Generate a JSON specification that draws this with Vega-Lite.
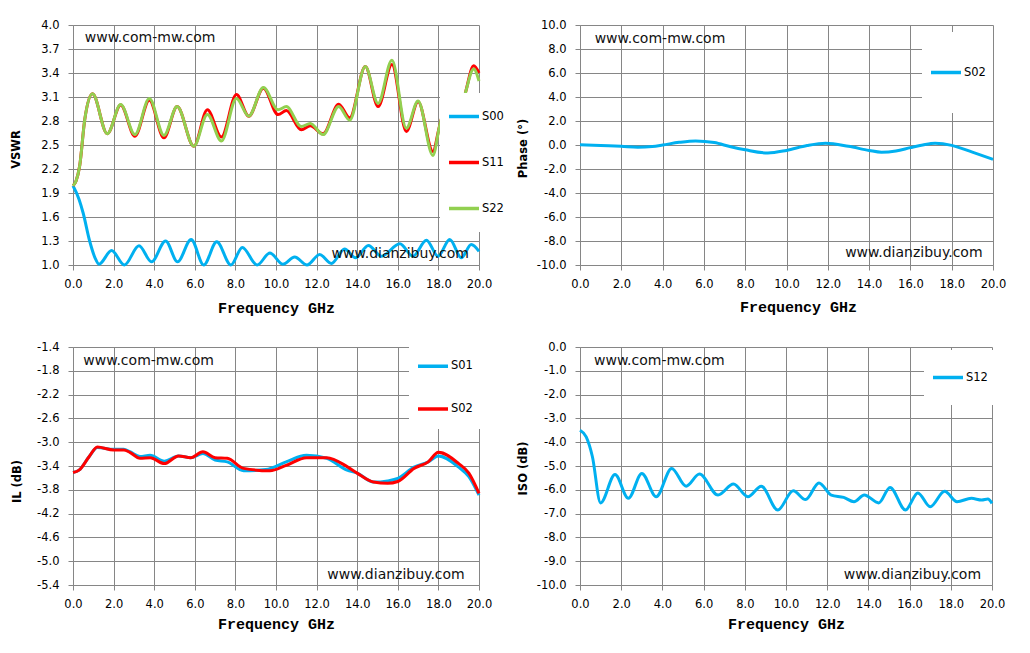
{
  "$schema": "https://vega.github.io/schema/vega-lite/v6.json",
  "autosize": {"type": "none"},
  "padding": {"left": 73, "top": 25, "right": 957, "bottom": 628},
  "background": "white",
  "config": {
    "view": {"stroke": null},
    "axis": {
      "grid": true,
      "gridColor": "#868686",
      "gridWidth": 1,
      "gridOpacity": 1,
      "domainColor": "#868686",
      "tickColor": "#868686",
      "tickSize": 5,
      "tickCount": 30,
      "labelFont": "DejaVu Sans",
      "labelFontSize": 11.5,
      "labelColor": "#000000",
      "labelPadding": 8,
      "labelFlush": false,
      "labelOverlap": false,
      "labelExpr": "replace(datum.label, '\u2212', '-')",
      "titleColor": "#000000"
    },
    "axisX": {
      "titleFont": "Liberation Mono",
      "titleFontSize": 15,
      "titleFontWeight": "bold",
      "titleBaseline": "middle"
    },
    "axisY": {
      "titleFont": "DejaVu Sans",
      "titleFontSize": 11.5,
      "titleFontWeight": "bold",
      "titleBaseline": "middle",
      "labelPadding": 9
    },
    "legend": {
      "orient": "none",
      "title": null,
      "symbolType": "stroke",
      "symbolSize": 900,
      "symbolStrokeWidth": 3.5,
      "padding": 7,
      "fillColor": "white",
      "labelOffset": 1,
      "labelFont": "DejaVu Sans",
      "labelFontSize": 11.5,
      "labelColor": "#000000"
    },
    "text": {"font": "DejaVu Sans", "fontSize": 14, "color": "#111111", "align": "left", "baseline": "middle"}
  },
  "datasets": {
    "vswr": [
      {"f": 0, "series": "S00", "v": 1.99}, {"f": 0.3, "series": "S00", "v": 1.82}, {"f": 0.5, "series": "S00", "v": 1.65},
      {"f": 0.82, "series": "S00", "v": 1.3}, {"f": 1.1, "series": "S00", "v": 1.08}, {"f": 1.28, "series": "S00", "v": 1.01},
      {"f": 1.9, "series": "S00", "v": 1.18}, {"f": 2.53, "series": "S00", "v": 1.0}, {"f": 3.25, "series": "S00", "v": 1.24},
      {"f": 3.87, "series": "S00", "v": 1.04}, {"f": 4.56, "series": "S00", "v": 1.3}, {"f": 5.15, "series": "S00", "v": 1.04},
      {"f": 5.82, "series": "S00", "v": 1.32}, {"f": 6.44, "series": "S00", "v": 1.0}, {"f": 7.08, "series": "S00", "v": 1.29},
      {"f": 7.78, "series": "S00", "v": 1.0}, {"f": 8.34, "series": "S00", "v": 1.22}, {"f": 9.07, "series": "S00", "v": 1.0},
      {"f": 9.7, "series": "S00", "v": 1.15}, {"f": 10.34, "series": "S00", "v": 1.01}, {"f": 10.92, "series": "S00", "v": 1.1},
      {"f": 11.53, "series": "S00", "v": 1.0}, {"f": 12.15, "series": "S00", "v": 1.13}, {"f": 12.73, "series": "S00", "v": 1.02},
      {"f": 13.38, "series": "S00", "v": 1.2}, {"f": 13.92, "series": "S00", "v": 1.09}, {"f": 14.55, "series": "S00", "v": 1.245},
      {"f": 15.19, "series": "S00", "v": 1.11}, {"f": 16.1, "series": "S00", "v": 1.265}, {"f": 16.75, "series": "S00", "v": 1.11},
      {"f": 17.41, "series": "S00", "v": 1.31}, {"f": 17.98, "series": "S00", "v": 1.11}, {"f": 18.56, "series": "S00", "v": 1.32},
      {"f": 19.13, "series": "S00", "v": 1.09}, {"f": 19.62, "series": "S00", "v": 1.255}, {"f": 20, "series": "S00", "v": 1.17},

      {"f": 0, "series": "S11", "v": 1.99}, {"f": 0.15, "series": "S11", "v": 2.05}, {"f": 0.33, "series": "S11", "v": 2.24},
      {"f": 0.58, "series": "S11", "v": 2.82}, {"f": 0.96, "series": "S11", "v": 3.14}, {"f": 1.69, "series": "S11", "v": 2.64},
      {"f": 2.35, "series": "S11", "v": 3.0}, {"f": 3.05, "series": "S11", "v": 2.61}, {"f": 3.76, "series": "S11", "v": 3.06},
      {"f": 4.48, "series": "S11", "v": 2.59}, {"f": 5.13, "series": "S11", "v": 2.98}, {"f": 5.95, "series": "S11", "v": 2.485},
      {"f": 6.62, "series": "S11", "v": 2.94}, {"f": 7.31, "series": "S11", "v": 2.6}, {"f": 8.05, "series": "S11", "v": 3.13},
      {"f": 8.66, "series": "S11", "v": 2.86}, {"f": 9.38, "series": "S11", "v": 3.21}, {"f": 10.1, "series": "S11", "v": 2.88},
      {"f": 10.51, "series": "S11", "v": 2.93}, {"f": 11.25, "series": "S11", "v": 2.69}, {"f": 11.69, "series": "S11", "v": 2.74},
      {"f": 12.32, "series": "S11", "v": 2.64}, {"f": 13.09, "series": "S11", "v": 3.01}, {"f": 13.63, "series": "S11", "v": 2.84},
      {"f": 14.4, "series": "S11", "v": 3.48}, {"f": 15.03, "series": "S11", "v": 2.98}, {"f": 15.71, "series": "S11", "v": 3.505},
      {"f": 16.42, "series": "S11", "v": 2.67}, {"f": 17.0, "series": "S11", "v": 3.04}, {"f": 17.73, "series": "S11", "v": 2.42},
      {"f": 18.06, "series": "S11", "v": 2.74}, {"f": 18.4, "series": "S11", "v": 3.0}, {"f": 19.0, "series": "S11", "v": 2.8},
      {"f": 19.35, "series": "S11", "v": 3.17}, {"f": 19.74, "series": "S11", "v": 3.49}, {"f": 20, "series": "S11", "v": 3.4},

      {"f": 0, "series": "S22", "v": 1.99}, {"f": 0.15, "series": "S22", "v": 2.05}, {"f": 0.33, "series": "S22", "v": 2.24},
      {"f": 0.58, "series": "S22", "v": 2.82}, {"f": 0.96, "series": "S22", "v": 3.14}, {"f": 1.69, "series": "S22", "v": 2.64},
      {"f": 2.35, "series": "S22", "v": 3.005}, {"f": 3.05, "series": "S22", "v": 2.63}, {"f": 3.76, "series": "S22", "v": 3.08},
      {"f": 4.48, "series": "S22", "v": 2.62}, {"f": 5.13, "series": "S22", "v": 2.98}, {"f": 5.95, "series": "S22", "v": 2.485},
      {"f": 6.62, "series": "S22", "v": 2.88}, {"f": 7.31, "series": "S22", "v": 2.55}, {"f": 8.05, "series": "S22", "v": 3.08},
      {"f": 8.66, "series": "S22", "v": 2.86}, {"f": 9.38, "series": "S22", "v": 3.22}, {"f": 10.1, "series": "S22", "v": 2.94},
      {"f": 10.51, "series": "S22", "v": 2.98}, {"f": 11.25, "series": "S22", "v": 2.73}, {"f": 11.69, "series": "S22", "v": 2.77},
      {"f": 12.32, "series": "S22", "v": 2.63}, {"f": 13.09, "series": "S22", "v": 2.98}, {"f": 13.63, "series": "S22", "v": 2.81},
      {"f": 14.4, "series": "S22", "v": 3.48}, {"f": 15.03, "series": "S22", "v": 3.02}, {"f": 15.71, "series": "S22", "v": 3.56},
      {"f": 16.42, "series": "S22", "v": 2.71}, {"f": 17.0, "series": "S22", "v": 3.05}, {"f": 17.73, "series": "S22", "v": 2.37},
      {"f": 18.06, "series": "S22", "v": 2.74}, {"f": 18.4, "series": "S22", "v": 3.0}, {"f": 19.0, "series": "S22", "v": 2.8},
      {"f": 19.35, "series": "S22", "v": 3.17}, {"f": 19.74, "series": "S22", "v": 3.45}, {"f": 20, "series": "S22", "v": 3.3}
    ],
    "phase": [
      {"f": 0, "series": "S02", "v": 0.02}, {"f": 1, "series": "S02", "v": -0.05}, {"f": 2, "series": "S02", "v": -0.11},
      {"f": 2.8, "series": "S02", "v": -0.18}, {"f": 3.5, "series": "S02", "v": -0.12}, {"f": 4, "series": "S02", "v": 0.0},
      {"f": 4.8, "series": "S02", "v": 0.22}, {"f": 5.6, "series": "S02", "v": 0.34}, {"f": 6.5, "series": "S02", "v": 0.2},
      {"f": 7.3, "series": "S02", "v": -0.15}, {"f": 8, "series": "S02", "v": -0.4}, {"f": 9.1, "series": "S02", "v": -0.67},
      {"f": 10, "series": "S02", "v": -0.45}, {"f": 11, "series": "S02", "v": -0.05}, {"f": 11.9, "series": "S02", "v": 0.14},
      {"f": 13, "series": "S02", "v": -0.11}, {"f": 14, "series": "S02", "v": -0.45}, {"f": 14.6, "series": "S02", "v": -0.6},
      {"f": 15.3, "series": "S02", "v": -0.5}, {"f": 16, "series": "S02", "v": -0.22}, {"f": 16.6, "series": "S02", "v": 0.0},
      {"f": 17.2, "series": "S02", "v": 0.14}, {"f": 18, "series": "S02", "v": -0.03}, {"f": 19, "series": "S02", "v": -0.6},
      {"f": 20, "series": "S02", "v": -1.2}
    ],
    "il": [
      {"f": 0, "series": "S01", "v": -3.51}, {"f": 0.3, "series": "S01", "v": -3.47}, {"f": 0.8, "series": "S01", "v": -3.24},
      {"f": 1.2, "series": "S01", "v": -3.09}, {"f": 2.0, "series": "S01", "v": -3.12}, {"f": 2.5, "series": "S01", "v": -3.12},
      {"f": 2.8, "series": "S01", "v": -3.16}, {"f": 3.3, "series": "S01", "v": -3.24}, {"f": 3.8, "series": "S01", "v": -3.22},
      {"f": 4.5, "series": "S01", "v": -3.32}, {"f": 5.2, "series": "S01", "v": -3.23}, {"f": 5.8, "series": "S01", "v": -3.26},
      {"f": 6.4, "series": "S01", "v": -3.19}, {"f": 7.0, "series": "S01", "v": -3.3}, {"f": 7.6, "series": "S01", "v": -3.33},
      {"f": 8.4, "series": "S01", "v": -3.48}, {"f": 9.5, "series": "S01", "v": -3.46}, {"f": 10.5, "series": "S01", "v": -3.33},
      {"f": 11.5, "series": "S01", "v": -3.22}, {"f": 12.5, "series": "S01", "v": -3.27}, {"f": 13.5, "series": "S01", "v": -3.47},
      {"f": 14.0, "series": "S01", "v": -3.52}, {"f": 14.8, "series": "S01", "v": -3.67}, {"f": 15.5, "series": "S01", "v": -3.65},
      {"f": 16.0, "series": "S01", "v": -3.61}, {"f": 16.8, "series": "S01", "v": -3.42}, {"f": 17.5, "series": "S01", "v": -3.33},
      {"f": 18.0, "series": "S01", "v": -3.23}, {"f": 19.0, "series": "S01", "v": -3.42}, {"f": 19.5, "series": "S01", "v": -3.58},
      {"f": 20, "series": "S01", "v": -3.89},

      {"f": 0, "series": "S02", "v": -3.51}, {"f": 0.3, "series": "S02", "v": -3.47}, {"f": 0.8, "series": "S02", "v": -3.24},
      {"f": 1.2, "series": "S02", "v": -3.08}, {"f": 2.0, "series": "S02", "v": -3.13}, {"f": 2.5, "series": "S02", "v": -3.13},
      {"f": 2.8, "series": "S02", "v": -3.17}, {"f": 3.3, "series": "S02", "v": -3.27}, {"f": 3.8, "series": "S02", "v": -3.26},
      {"f": 4.5, "series": "S02", "v": -3.36}, {"f": 5.2, "series": "S02", "v": -3.23}, {"f": 5.8, "series": "S02", "v": -3.26},
      {"f": 6.4, "series": "S02", "v": -3.16}, {"f": 7.0, "series": "S02", "v": -3.26}, {"f": 7.6, "series": "S02", "v": -3.27},
      {"f": 8.4, "series": "S02", "v": -3.44}, {"f": 9.7, "series": "S02", "v": -3.48}, {"f": 10.5, "series": "S02", "v": -3.39},
      {"f": 11.5, "series": "S02", "v": -3.26}, {"f": 12.5, "series": "S02", "v": -3.26}, {"f": 13.5, "series": "S02", "v": -3.41},
      {"f": 14.0, "series": "S02", "v": -3.52}, {"f": 14.8, "series": "S02", "v": -3.67}, {"f": 15.5, "series": "S02", "v": -3.69},
      {"f": 16.0, "series": "S02", "v": -3.66}, {"f": 16.8, "series": "S02", "v": -3.44}, {"f": 17.5, "series": "S02", "v": -3.33},
      {"f": 18.0, "series": "S02", "v": -3.17}, {"f": 19.0, "series": "S02", "v": -3.36}, {"f": 19.5, "series": "S02", "v": -3.52},
      {"f": 20, "series": "S02", "v": -3.86}
    ],
    "iso": [
      {"f": 0, "series": "S12", "v": -3.5}, {"f": 0.3, "series": "S12", "v": -3.78}, {"f": 0.6, "series": "S12", "v": -4.6},
      {"f": 1.0, "series": "S12", "v": -6.55}, {"f": 1.7, "series": "S12", "v": -5.36}, {"f": 2.35, "series": "S12", "v": -6.36},
      {"f": 3.0, "series": "S12", "v": -5.31}, {"f": 3.7, "series": "S12", "v": -6.29}, {"f": 4.45, "series": "S12", "v": -5.1},
      {"f": 5.15, "series": "S12", "v": -5.85}, {"f": 5.8, "series": "S12", "v": -5.34}, {"f": 6.7, "series": "S12", "v": -6.22},
      {"f": 7.45, "series": "S12", "v": -5.76}, {"f": 8.15, "series": "S12", "v": -6.29}, {"f": 8.8, "series": "S12", "v": -5.85},
      {"f": 9.6, "series": "S12", "v": -6.85}, {"f": 10.35, "series": "S12", "v": -6.04}, {"f": 10.95, "series": "S12", "v": -6.41},
      {"f": 11.6, "series": "S12", "v": -5.71}, {"f": 12.2, "series": "S12", "v": -6.22}, {"f": 12.8, "series": "S12", "v": -6.32},
      {"f": 13.3, "series": "S12", "v": -6.5}, {"f": 13.8, "series": "S12", "v": -6.22}, {"f": 14.5, "series": "S12", "v": -6.55},
      {"f": 15.05, "series": "S12", "v": -5.9}, {"f": 15.8, "series": "S12", "v": -6.85}, {"f": 16.4, "series": "S12", "v": -6.13},
      {"f": 17.0, "series": "S12", "v": -6.71}, {"f": 17.7, "series": "S12", "v": -6.06}, {"f": 18.3, "series": "S12", "v": -6.5},
      {"f": 19.0, "series": "S12", "v": -6.36}, {"f": 19.5, "series": "S12", "v": -6.43}, {"f": 19.8, "series": "S12", "v": -6.39},
      {"f": 20, "series": "S12", "v": -6.57}
    ]
  },
  "columns": 2,
  "spacing": {"row": 82, "column": 101},
  "bounds": "flush",
  "resolve": {"scale": {"color": "independent"}, "legend": {"color": "independent"}},
  "concat": [
    {
      "width": 406,
      "height": 240,
      "layer": [
        {
          "data": {"name": "vswr"},
          "mark": {"type": "line", "strokeWidth": 3, "interpolate": "monotone"},
          "encoding": {
            "x": {"field": "f", "type": "quantitative", "scale": {"domain": [0, 20], "nice": false},
              "axis": {"values": [0, 2, 4, 6, 8, 10, 12, 14, 16, 18, 20], "format": ".1f", "title": "Frequency GHz", "titleY": 42}},
            "y": {"field": "v", "type": "quantitative", "scale": {"domain": [1, 4], "nice": false, "zero": false},
              "axis": {"values": [1, 1.3, 1.6, 1.9, 2.2, 2.5, 2.8, 3.1, 3.4, 3.7, 4], "format": ".1f", "title": "VSWR", "titleX": -57, "titleY": 124}},
            "color": {"field": "series", "type": "nominal",
              "scale": {"domain": ["S00", "S11", "S22"], "range": ["#00B0F0", "#FF0000", "#92D050"]},
              "legend": {"legendX": 367, "legendY": 68, "clipHeight": 33, "rowPadding": 13}}
          }
        },
        {
          "data": {"values": [{"label": "www.com-mw.com"}]},
          "mark": {"type": "text"},
          "encoding": {"x": {"datum": 0.58}, "y": {"datum": 3.84}, "text": {"field": "label"}}
        },
        {
          "data": {"values": [{"label": "www.dianzibuy.com"}]},
          "mark": {"type": "text"},
          "encoding": {"x": {"datum": 12.74}, "y": {"datum": 1.133}, "text": {"field": "label"}}
        }
      ]
    },
    {
      "width": 413,
      "height": 240,
      "layer": [
        {
          "data": {"name": "phase"},
          "mark": {"type": "line", "strokeWidth": 3, "interpolate": "monotone"},
          "encoding": {
            "x": {"field": "f", "type": "quantitative", "scale": {"domain": [0, 20], "nice": false},
              "axis": {"values": [0, 2, 4, 6, 8, 10, 12, 14, 16, 18, 20], "format": ".1f", "title": "Frequency GHz", "titleY": 41, "titleX": 218}},
            "y": {"field": "v", "type": "quantitative", "scale": {"domain": [-10, 10], "nice": false, "zero": false},
              "axis": {"values": [-10, -8, -6, -4, -2, 0, 2, 4, 6, 8, 10], "format": ".1f", "title": "Phase (°)", "titleX": -57, "titleY": 123}},
            "color": {"field": "series", "type": "nominal",
              "scale": {"domain": ["S02"], "range": ["#00B0F0"]},
              "legend": {"legendX": 342, "legendY": 7, "clipHeight": 67}}
          }
        },
        {
          "data": {"values": [{"label": "www.com-mw.com"}]},
          "mark": {"type": "text"},
          "encoding": {"x": {"datum": 0.71}, "y": {"datum": 8.8}, "text": {"field": "label"}}
        },
        {
          "data": {"values": [{"label": "www.dianzibuy.com"}]},
          "mark": {"type": "text"},
          "encoding": {"x": {"datum": 12.84}, "y": {"datum": -9.0}, "text": {"field": "label"}}
        }
      ]
    },
    {
      "width": 406,
      "height": 238,
      "layer": [
        {
          "data": {"name": "il"},
          "mark": {"type": "line", "strokeWidth": 3, "interpolate": "monotone"},
          "encoding": {
            "x": {"field": "f", "type": "quantitative", "scale": {"domain": [0, 20], "nice": false},
              "axis": {"values": [0, 2, 4, 6, 8, 10, 12, 14, 16, 18, 20], "format": ".1f", "title": "Frequency GHz", "titleY": 38}},
            "y": {"field": "v", "type": "quantitative", "scale": {"domain": [-5.4, -1.4], "nice": false, "zero": false},
              "axis": {"values": [-5.4, -5, -4.6, -4.2, -3.8, -3.4, -3, -2.6, -2.2, -1.8, -1.4], "format": ".1f", "title": "IL (dB)", "titleX": -56, "titleY": 134}},
            "color": {"field": "series", "type": "nominal",
              "scale": {"domain": ["S01", "S02"], "range": ["#00B0F0", "#FF0000"]},
              "legend": {"legendX": 336, "legendY": 0, "clipHeight": 24.7, "rowPadding": 17.6}}
          }
        },
        {
          "data": {"values": [{"label": "www.com-mw.com"}]},
          "mark": {"type": "text"},
          "encoding": {"x": {"datum": 0.51}, "y": {"datum": -1.64}, "text": {"field": "label"}}
        },
        {
          "data": {"values": [{"label": "www.dianzibuy.com"}]},
          "mark": {"type": "text"},
          "encoding": {"x": {"datum": 12.53}, "y": {"datum": -5.226}, "text": {"field": "label"}}
        }
      ]
    },
    {
      "width": 412,
      "height": 238,
      "layer": [
        {
          "data": {"name": "iso"},
          "mark": {"type": "line", "strokeWidth": 3, "interpolate": "monotone"},
          "encoding": {
            "x": {"field": "f", "type": "quantitative", "scale": {"domain": [0, 20], "nice": false},
              "axis": {"values": [0, 2, 4, 6, 8, 10, 12, 14, 16, 18, 20], "format": ".1f", "title": "Frequency GHz", "titleY": 38}},
            "y": {"field": "v", "type": "quantitative", "scale": {"domain": [-10, 0], "nice": false, "zero": false},
              "axis": {"values": [-10, -9, -8, -7, -6, -5, -4, -3, -2, -1, 0], "format": ".1f", "title": "ISO (dB)", "titleX": -57, "titleY": 121}},
            "color": {"field": "series", "type": "nominal",
              "scale": {"domain": ["S12"], "range": ["#00B0F0"]},
              "legend": {"legendX": 344, "legendY": 3, "clipHeight": 41}}
          }
        },
        {
          "data": {"values": [{"label": "www.com-mw.com"}]},
          "mark": {"type": "text"},
          "encoding": {"x": {"datum": 0.68}, "y": {"datum": -0.6}, "text": {"field": "label"}}
        },
        {
          "data": {"values": [{"label": "www.dianzibuy.com"}]},
          "mark": {"type": "text"},
          "encoding": {"x": {"datum": 12.8}, "y": {"datum": -9.58}, "text": {"field": "label"}}
        }
      ]
    }
  ]
}
